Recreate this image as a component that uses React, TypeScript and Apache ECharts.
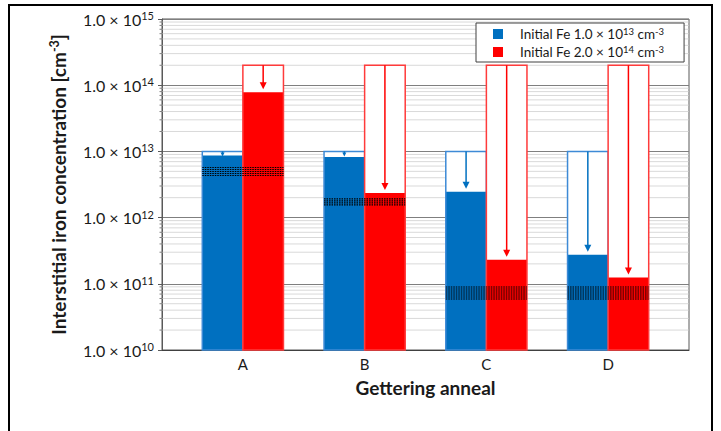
import React, { useEffect, useRef } from 'react';
import * as echarts from 'echarts';

const categories = ['A', 'B', 'C', 'D'];
const seriesNames = ['Initial Fe 1.0 × 10^13 cm^-3', 'Initial Fe 2.0 × 10^14 cm^-3'];
const initialLow = [1e13, 1e13, 1e13, 1e13];
const finalLow = [8.7e12, 8.2e12, 2.45e12, 2.75e11];
const initialHigh = [2e14, 2e14, 2e14, 2e14];
const finalHigh = [7.8e13, 2.35e12, 2.3e11, 1.25e11];
const limitLow = [4.3e12, 1.55e12, 5.8e10, 5.8e10];
const limitHigh = [5.8e12, 1.95e12, 9.1e10, 9.1e10];
const decades = [10, 11, 12, 13, 14];
const mantissas = [2, 3, 4, 5, 6, 7, 8, 9];

const BLUE = '#0070C0';
const RED = '#FF0000';
const FONT = 'Lato';
const TXT = '#1a1a1a';

const minorValues: number[] = [];
decades.forEach((d) => mantissas.forEach((m) => minorValues.push(m * Math.pow(10, d))));

function barRender(side: number, fill: string, stroke: string) {
  return (params: any, api: any) => {
    const idx = api.value(0);
    const init = api.value(1);
    const fin = api.value(2);
    const cs = params.coordSys;
    const band = cs.width / categories.length;
    const barW = band / 3;
    const base = api.coord([idx, 1e10]);
    const top = api.coord([idx, init])[1];
    const f = api.coord([idx, fin])[1];
    const x0 = side < 0 ? base[0] - barW : base[0];
    const cx = x0 + barW / 2;
    const tipY = Math.max(f - 3, top + 5);
    const headH = Math.min(7, tipY - top - 1);
    const headW = headH * 0.5;
    const children: any[] = [
      { type: 'rect', shape: { x: x0, y: top, width: barW, height: base[1] - top }, style: { fill: '#fff' } },
      { type: 'rect', shape: { x: x0, y: f, width: barW, height: base[1] - f }, style: { fill } },
      { type: 'rect', shape: { x: x0, y: top, width: barW, height: base[1] - top }, style: { fill: 'none', stroke, lineWidth: 1.5 } },
    ];
    if (tipY - headH - top > 0.5) {
      children.push({ type: 'line', shape: { x1: cx, y1: top, x2: cx, y2: tipY - headH + 1 }, style: { stroke: fill, lineWidth: 1.5 } });
    }
    children.push({
      type: 'polygon',
      shape: { points: [[cx - headW, tipY - headH], [cx + headW, tipY - headH], [cx, tipY]] },
      style: { fill },
    });
    return { type: 'group', children };
  };
}

export default function App() {
  const ref = useRef<HTMLDivElement>(null);
  useEffect(() => {
    document.body.style.margin = '0';
    const chart = echarts.init(ref.current!, null, { renderer: 'svg' });
    const yLabel = {
      formatter: (v: number) => `{n|1.0 × 10}{s|${Math.round(Math.log10(v))}}`,
      margin: 8,
      rich: {
        n: { fontSize: 16, fontFamily: FONT, color: TXT, lineHeight: 18 },
        s: { fontSize: 11, fontFamily: FONT, color: TXT, lineHeight: 11, verticalAlign: 'top' },
      },
    };
    const legendRich = {
      n: { fontSize: 13.5, fontFamily: FONT, color: TXT, lineHeight: 16 },
      p: { fontSize: 13.5, fontFamily: FONT, color: TXT, lineHeight: 16, padding: [0, 0, 0, 12] },
      s: { fontSize: 9.5, fontFamily: FONT, color: TXT, lineHeight: 9, verticalAlign: 'top' },
    };
    chart.setOption({
      animation: false,
      backgroundColor: '#fff',
      textStyle: { fontFamily: FONT },
      graphic: [
        { type: 'rect', shape: { x: 9, y: 5, width: 703, height: 440 }, style: { fill: 'none', stroke: '#000', lineWidth: 2 }, z: 100 },
      ],
      legend: {
        data: seriesNames,
        orient: 'vertical',
        left: 476,
        top: 23,
        icon: 'rect',
        itemWidth: 10,
        itemHeight: 10,
        itemGap: 3,
        padding: [3, 20, 3, 17],
        backgroundColor: '#fff',
        borderColor: '#404040',
        borderWidth: 1,
        formatter: (name: string) =>
          name.indexOf('1.0') >= 0
            ? '{p|Initial Fe 1.0 × 10}{s|13}{n| cm}{s|-3}'
            : '{p|Initial Fe 2.0 × 10}{s|14}{n| cm}{s|-3}',
        textStyle: { rich: legendRich },
        z: 50,
      },
      grid: [
        { left: 162, top: 19, width: 527, height: 331, show: true, borderColor: '#595959', borderWidth: 1, backgroundColor: 'transparent' },
        { left: 182, top: 19, width: 487, height: 331 },
      ],
      xAxis: [
        { type: 'category', gridIndex: 0, data: [''], axisLine: { lineStyle: { color: '#404040' } }, axisTick: { show: false }, axisLabel: { show: false } },
        {
          type: 'category', gridIndex: 1, data: categories,
          axisLine: { show: false }, axisTick: { show: false },
          axisLabel: { fontSize: 15, fontFamily: FONT, color: TXT, margin: 6 },
          name: 'Gettering anneal', nameLocation: 'middle', nameGap: 28,
          nameTextStyle: { fontSize: 19, fontWeight: 'bold', fontFamily: FONT, color: TXT },
        },
      ],
      yAxis: [
        {
          type: 'log', logBase: 10, gridIndex: 0, min: 1e10, max: 1e15,
          axisLine: { show: true, lineStyle: { color: '#595959' } },
          axisTick: { show: true, length: 4, lineStyle: { color: '#595959' } },
          splitLine: { show: true, lineStyle: { color: '#7f7f7f', width: 1 } },
          axisLabel: yLabel,
          name: '{b|Interstitial iron concentration [cm}{bs|-3}{b|]}',
          nameLocation: 'middle', nameGap: 93,
          nameTextStyle: {
            rich: {
              b: { fontSize: 19, fontWeight: 'bold', fontFamily: FONT, color: TXT, lineHeight: 21 },
              bs: { fontSize: 12.5, fontWeight: 'bold', fontFamily: FONT, color: TXT, lineHeight: 12, verticalAlign: 'top' },
            },
          },
        },
        { type: 'log', logBase: 10, gridIndex: 1, min: 1e10, max: 1e15, show: false, splitLine: { show: false } },
      ],
      series: [
        {
          type: 'custom', name: 'minor', xAxisIndex: 0, yAxisIndex: 0, z: 1, silent: true,
          data: minorValues.map((v) => [0, v]),
          renderItem: (params: any, api: any) => {
            const cs = params.coordSys;
            const y = api.coord([0, api.value(1)])[1];
            return {
              type: 'group',
              children: [
                { type: 'line', shape: { x1: cs.x + 0.5, y1: y, x2: cs.x + cs.width - 0.5, y2: y }, style: { stroke: '#d9d9d9', lineWidth: 1 } },
                { type: 'line', shape: { x1: cs.x - 2.5, y1: y, x2: cs.x, y2: y }, style: { stroke: '#7f7f7f', lineWidth: 1 } },
              ],
            };
          },
        },
        {
          type: 'custom', name: seriesNames[0], xAxisIndex: 1, yAxisIndex: 1, z: 3,
          itemStyle: { color: BLUE },
          data: categories.map((_, i) => [i, initialLow[i], finalLow[i]]),
          renderItem: barRender(-1, BLUE, '#3d8ad6'),
        },
        {
          type: 'custom', name: seriesNames[1], xAxisIndex: 1, yAxisIndex: 1, z: 3,
          itemStyle: { color: RED },
          data: categories.map((_, i) => [i, initialHigh[i], finalHigh[i]]),
          renderItem: barRender(1, RED, '#ff3b3b'),
        },
        {
          type: 'custom', name: 'limit', xAxisIndex: 1, yAxisIndex: 1, z: 4, silent: true,
          data: categories.map((_, i) => [i, limitLow[i], limitHigh[i]]),
          renderItem: (params: any, api: any) => {
            const cs = params.coordSys;
            const barW = cs.width / categories.length / 3;
            const cx = api.coord([api.value(0), 1e10])[0];
            const yLo = api.coord([0, api.value(1)])[1];
            const yHi = api.coord([0, api.value(2)])[1];
            const children: any[] = [];
            for (let y = yHi + 0.5; y <= yLo; y += 2) {
              children.push({ type: 'line', shape: { x1: cx - barW, y1: y, x2: cx + barW, y2: y }, style: { stroke: '#000', lineWidth: 1.1, lineDash: [1.5, 1] } });
            }
            return { type: 'group', children };
          },
        },
      ],
    });
    return () => chart.dispose();
  }, []);
  return <div ref={ref} style={{ width: 721, height: 431 }} />;
}
